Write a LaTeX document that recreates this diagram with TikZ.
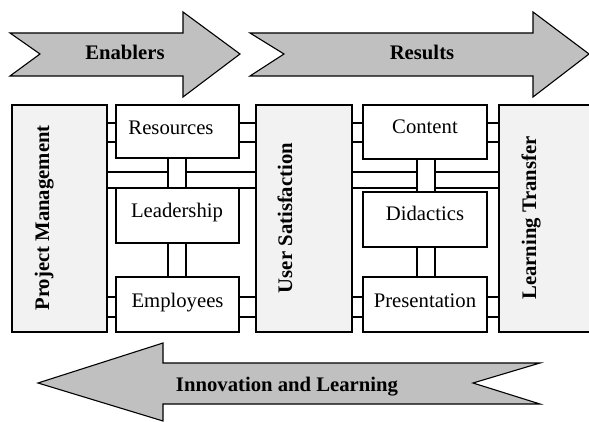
\documentclass[tikz,border=0pt]{standalone}
\usepackage{fontspec}
\setmainfont{Liberation Serif}
\definecolor{arrowgray}{HTML}{C0C0C0}
\definecolor{pillargray}{HTML}{F2F2F2}
\begin{document}
\begin{tikzpicture}[x=1pt,y=-1pt,
  flow/.style={draw=black, fill=arrowgray, line width=1.1pt, line join=miter},
  pillar/.style={draw=black, fill=pillargray, line width=1.1pt, inner sep=0pt},
  unit/.style={draw=black, fill=white, line width=1.1pt, inner sep=0pt},
  pipe/.style={draw=black, line width=1.1pt},
  lbl/.style={inner sep=0pt, font=\fontsize{20.7}{24}\selectfont},
  blbl/.style={inner sep=0pt, font=\fontsize{20.7}{24}\selectfont\bfseries}]
\clip (0,0) rectangle (589,422);
\fill[white] (0,0) rectangle (589,422);

% big process arrows
\draw[flow] (10,33) -- (183,33) -- (183,12) -- (240,54) -- (183,97) -- (183,76) -- (10,76) -- (40,54) -- cycle;
\draw[flow] (250,33) -- (533,33) -- (533,12) -- (589,54) -- (533,97) -- (533,76) -- (250,76) -- (284,54) -- cycle;
\draw[flow] (38,383) -- (163,343) -- (163,363) -- (540,363) -- (473,383) -- (540,404) -- (163,404) -- (163,421) -- cycle;
\node[blbl, anchor=base] (tena) at (125,60) {Enablers};
\node[blbl, anchor=base] (tresu) at (422,60) {Results};
\node[blbl, anchor=base] (tinno) at (287,391) {Innovation and Learning};

% pillars and units
\node[pillar, minimum width=95pt, minimum height=227pt] (pm) at (59.5,218.5) {};
\node[pillar, minimum width=96pt, minimum height=227pt] (us) at (304,218.5) {};
\node[pillar, minimum width=121pt, minimum height=227pt] (lt) at (559.5,218.5) {};
\node[unit, minimum width=123pt, minimum height=53pt] (res) at (177.5,131.5) {};
\node[unit, minimum width=123pt, minimum height=55pt] (lead) at (177.5,215.5) {};
\node[unit, minimum width=123pt, minimum height=55pt] (emp) at (177.5,304.5) {};
\node[unit, minimum width=124pt, minimum height=54pt] (con) at (425,132) {};
\node[unit, minimum width=124pt, minimum height=55pt] (did) at (425,219.5) {};
\node[unit, minimum width=124pt, minimum height=55pt] (pres) at (425,304.5) {};

% levels of the connecting pipes
\coordinate (yA) at (0,123);
\coordinate (yB) at (0,142);
\coordinate (yT) at (0,172);
\coordinate (yU) at (0,188);
\coordinate (yE) at (0,297);
\coordinate (yF) at (0,317);
\coordinate (xL1) at (168,0);
\coordinate (xL2) at (186,0);
\coordinate (xR1) at (417,0);
\coordinate (xR2) at (435,0);

% enabler side
\foreach \lv in {yA,yB} {
  \draw[pipe] (pm.east |- \lv) -- (res.west |- \lv);
  \draw[pipe] (res.east |- \lv) -- (us.west |- \lv);
}
\foreach \lv in {yE,yF} {
  \draw[pipe] (pm.east |- \lv) -- (emp.west |- \lv);
  \draw[pipe] (emp.east |- \lv) -- (us.west |- \lv);
}
\draw[pipe] (pm.east |- yT) -- (xL1 |- yT);
\draw[pipe] (xL2 |- yT) -- (us.west |- yT);
\draw[pipe] (pm.east |- yU) -- (us.west |- yU);
\foreach \cx in {xL1,xL2} {
  \draw[pipe] (res.south -| \cx) -- (lead.north -| \cx);
  \draw[pipe] (lead.south -| \cx) -- (emp.north -| \cx);
}

% result side
\foreach \lv in {yA,yB} {
  \draw[pipe] (us.east |- \lv) -- (con.west |- \lv);
  \draw[pipe] (con.east |- \lv) -- (lt.west |- \lv);
}
\foreach \lv in {yE,yF} {
  \draw[pipe] (us.east |- \lv) -- (pres.west |- \lv);
  \draw[pipe] (pres.east |- \lv) -- (lt.west |- \lv);
}
\foreach \lv in {yT,yU} {
  \draw[pipe] (us.east |- \lv) -- (xR1 |- \lv);
  \draw[pipe] (xR2 |- \lv) -- (lt.west |- \lv);
}
\foreach \cx in {xR1,xR2} {
  \draw[pipe] (con.south -| \cx) -- (did.north -| \cx);
  \draw[pipe] (did.south -| \cx) -- (pres.north -| \cx);
}

% labels
\node[blbl, rotate=90, anchor=base] (tpm) at (49,218) {Project Management};
\node[blbl, rotate=90, anchor=base] (tus) at (292,218) {User Satisfaction};
\node[blbl, rotate=90, anchor=base] (tlt) at (536,218) {Learning Transfer};
\node[lbl, anchor=base] (tres) at (171,135) {Resources};
\node[lbl, anchor=base] (tlead) at (177,218) {Leadership};
\node[lbl, anchor=base] (temp) at (177.5,307) {Employees};
\node[lbl, anchor=base] (tcon) at (425,134) {Content};
\node[lbl, anchor=base] (tdid) at (425,221) {Didactics};
\node[lbl, anchor=base] (tpres) at (425,307) {Presentation};
\end{tikzpicture}
\end{document}
